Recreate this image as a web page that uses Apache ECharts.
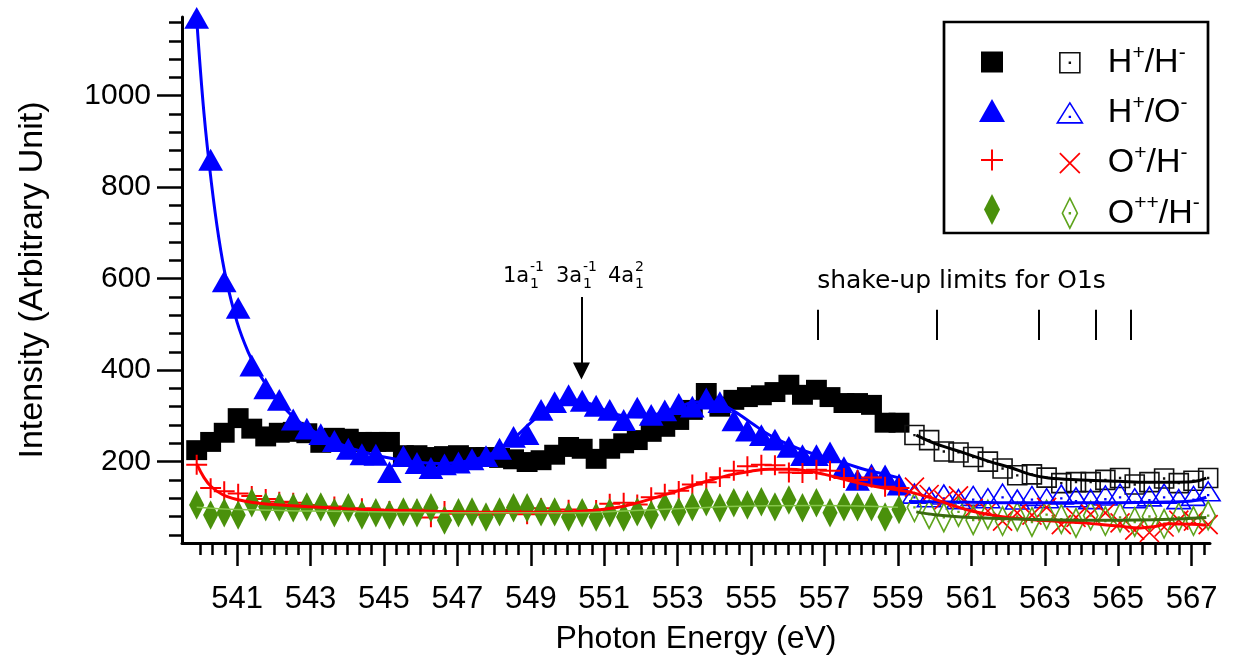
<!DOCTYPE html>
<html><head><meta charset="utf-8">
<script src="https://cdn.jsdelivr.net/npm/echarts@6/dist/echarts.min.js"></script>
<style>html,body{margin:0;padding:0;background:#fff}#c{width:1235px;height:662px}</style>
</head><body><div id="c"></div>
<script>
// ---------------- data ----------------
const energyFilled = [539.90, 540.28, 540.65, 541.03, 541.40, 541.78, 542.15, 542.53, 542.90, 543.28,
  543.65, 544.03, 544.40, 544.78, 545.15, 545.53, 545.90, 546.28, 546.65, 547.03,
  547.40, 547.78, 548.15, 548.53, 548.90, 549.28, 549.65, 550.03, 550.40, 550.78,
  551.15, 551.53, 551.90, 552.28, 552.65, 553.03, 553.40, 553.78, 554.15, 554.53,
  554.90, 555.28, 555.65, 556.03, 556.40, 556.78, 557.15, 557.53, 557.90, 558.28,
  558.65, 559.03];
const energyOpen = [559.45, 559.85, 560.25, 560.65, 561.05, 561.45, 561.85, 562.25, 562.65, 563.05,
  563.45, 563.85, 564.25, 564.65, 565.05, 565.45, 565.85, 566.25, 566.65, 567.05, 567.45];

// H+/H-
const hhFilled = [225, 243, 263, 295, 272, 255, 263, 265, 262, 241, 252, 250, 243, 243, 243, 214, 214, 210, 212, 214,
  210, 210, 208, 205, 199, 203, 215, 232, 228, 206, 228, 240, 247, 265, 276, 291, 313, 350, 320, 335,
  341, 345, 352, 368, 346, 357, 341, 328, 328, 324, 285, 285];
const hhOpen = [258, 247, 222, 220, 210, 200, 185, 170, 172, 165, 153, 155, 155, 160, 164, 150, 155, 163, 153, 158, 164];
const hhFitE = [559.5, 560.0, 560.8, 561.5, 562.1, 562.6, 563.1, 564.0, 565.0, 565.8, 566.6, 567.1, 567.4];
const hhFitV = [258, 240, 219, 200, 186, 172, 164, 160, 157, 155, 155, 157, 164];

// H+/O-
const hoFilled = [1170, 860, 594, 536, 410, 360, 335, 292, 272, 260, 245, 228, 216, 215, 177, 212, 197, 186, 194, 198,
  205, 212, 228, 254, 260, 313, 330, 345, 333, 322, 313, 291, 318, 302, 312, 326, 320, 338, 330, 290,
  268, 258, 248, 232, 214, 214, 220, 188, 160, 172, 170, 150];
const hoOpen = [130, 122, 128, 118, 125, 120, 130, 117, 125, 120, 128, 122, 118, 126, 130, 120, 124, 130, 118, 125, 135];
const hoFitE = [539.9, 540.1, 540.3, 540.5, 540.7, 541.0, 541.3, 541.6, 542.0, 542.5, 543.0, 543.5, 544.0, 544.5,
  545.0, 545.5, 546.0, 546.5, 547.0, 547.5, 548.0, 548.5, 549.0, 549.5, 550.0, 550.5, 551.0, 551.5, 552.0,
  552.5, 553.0, 553.5, 554.0, 554.5, 555.0, 555.5, 556.0, 556.5, 557.0, 557.5, 558.0, 558.5, 559.0];
const hoFitV = [1168, 960, 810, 690, 600, 505, 440, 392, 345, 300, 270, 250, 232, 220, 210, 203, 198, 196, 198, 205,
  220, 248, 285, 318, 335, 330, 313, 300, 298, 305, 318, 330, 330, 312, 285, 258, 238, 222, 210, 198, 185, 175, 165];
const hoOpenFitE = [559.3, 560.0, 561.0, 562.0, 563.0, 564.0, 565.0, 566.0, 567.0, 567.4];
const hoOpenFitV = [113, 112, 111, 110, 110, 110, 110, 111, 114, 122];

// O+/H-
const ohFilled = [193, 142, 135, 130, 125, 118, 112, 110, 105, 100, 102, 96, 98, 94, 92, 90, 95, 78, 92, 86,
  90, 84, 88, 94, 85, 98, 90, 95, 88, 94, 108, 110, 106, 122, 130, 136, 150, 155, 166, 180,
  190, 193, 192, 176, 175, 182, 180, 164, 160, 165, 145, 142];
const ohOpen = [144, 128, 116, 125, 98, 92, 70, 88, 83, 100, 62, 78, 85, 88, 66, 50, 45, 57, 72, 70, 62];
const ohFitE = [539.9, 540.1, 540.3, 540.6, 541, 541.5, 542, 543, 544, 545, 546, 547, 548, 549, 550, 550.5, 551, 551.5,
  552, 552.5, 553, 553.5, 554, 554.5, 555, 555.5, 556, 556.5, 557, 557.5, 558, 558.5, 559, 559.5, 560, 560.5,
  561, 561.5, 562, 563, 564, 565, 565.6, 566, 566.4, 567, 567.4];
const ohFitV = [195, 165, 145, 128, 117, 110, 106, 101, 97, 94, 92, 90, 89, 89, 90, 92, 96, 102,
  112, 124, 136, 150, 162, 172, 179, 183, 183, 180, 172, 162, 152, 144, 138, 130, 118, 104,
  92, 84, 78, 71, 66, 59, 55, 58, 64, 63, 61];

// O++/H-
const oohFilled = [105, 83, 88, 83, 110, 101, 101, 99, 101, 101, 88, 99, 83, 88, 83, 90, 88, 99, 72, 88,
  90, 79, 90, 99, 99, 90, 90, 79, 88, 79, 88, 79, 90, 83, 101, 90, 101, 112, 99, 110,
  105, 112, 101, 116, 99, 110, 88, 101, 101, 101, 79, 95];
const oohOpen = [100, 85, 78, 90, 72, 84, 70, 80, 68, 84, 74, 66, 82, 70, 78, 68, 80, 64, 78, 70, 82];
const oohFitE = [539.9, 541, 543, 545, 547, 549, 551, 553, 555, 557, 559];
const oohFitV = [100, 95, 92, 90, 88, 88, 90, 97, 103, 104, 100];
const oohOpenFitE = [559.5, 560, 561, 562, 563, 564, 565, 566, 567, 567.4];
const oohOpenFitV = [90, 84, 78, 75, 73, 72, 72, 73, 76, 78];

// ticks
const xTickValues = [541, 543, 545, 547, 549, 551, 553, 555, 557, 559, 561, 563, 565, 567];
const xTickLabels = ['541', '543', '545', '547', '549', '551', '553', '555', '557', '559', '561', '563', '565', '567'];
const yTickValues = [200, 400, 600, 800, 1000];
const yTickLabels = ['200', '400', '600', '800', '1000'];

// annotations
const shakeUpLimits = [556.81, 560.06, 562.83, 564.40, 565.34];
const shakeUpRange = [466, 532];
const shakeUpText = 'shake-up limits for O1s';
const arrowEnergy = 550.38;
const arrowRange = [560, 398];
const orbitalBase = ['1a', '3a', '4a'];
const orbitalSub = ['1', '1', '1'];
const orbitalSup = ['-1', '-1', '2'];

// legend labels
const legendFilledNames = ['H+/H- (a)', 'H+/O- (a)', 'O+/H- (a)', 'O++/H- (a)'];
const legendOpenNames = ['H+/H- (b)', 'H+/O- (b)', 'O+/H- (b)', 'O++/H- (b)'];
const legendRich = ['H{s|+}/H{s|-}', 'H{s|+}/O{s|-}', 'O{s|+}/H{s|-}', 'O{s|++}/H{s|-}'];

// ---------------- chart ----------------
const X_MIN = 539.5, X_MAX = 567.5, Y_MIN = 22, Y_MAX = 1172;
const F = '"Liberation Sans", Arial, sans-serif';
const zip = (xs, ys) => xs.map((x, i) => [x, ys[i]]);

const xMinor = [];
for (let k = 0; k <= 82; k++) { if ((k - 3) % 6 !== 0) xMinor.push(+(540 + k / 3).toFixed(4)); }
const yMinor = [];
for (let v = 40; v <= 1160; v += 40) { if (v % 200 !== 0) yMinor.push(v); }

const pad = 'M0,0M40,40';
const SYM = {
  sqFilled: 'path://' + pad + 'M9,9.5H31V30.5H9Z',
  sqOpen: 'path://' + pad + 'M10,10H30V30H10ZM19.6,19.6H20.4V20.4H19.6Z',
  triFilled: 'path://' + pad + 'M20,8.5L33,31.5H7Z',
  triOpen: 'path://' + pad + 'M20,10L32.5,30H7.5ZM19.6,23.6H20.4V24.4H19.6Z',
  plus: 'path://' + pad + 'M9,20H31M20,9.5V30.5',
  cross: 'path://' + pad + 'M10,10L30,30M30,10L10,30',
  diaFilled: 'path://' + pad + 'M20,4.5L28,20L20,35.5L12,20Z',
  diaOpen: 'path://' + pad + 'M20,5L27.5,20L20,35L12.5,20ZM19.6,19.6H20.4V20.4H19.6Z'
};
const SS = 38;
const C = { blk: '#000000', blue: '#0000ff', red: '#ff0000', green: '#4a910b', green2: '#5ea41c', dkgreen: '#3a6a0e', ltgreen: '#86c64a' };

function scatter(name, e, v, sym, style) {
  return { name, type: 'scatter', data: zip(e, v), symbol: sym, symbolSize: SS,
    itemStyle: Object.assign({ opacity: 1 }, style), emphasis: { disabled: true } };
}
function fit(e, v, color, width) {
  return { type: 'line', data: zip(e, v), smooth: 0.4, showSymbol: false, symbol: 'none', lineStyle: { color, width }, emphasis: { disabled: true } };
}

const chart = echarts.init(document.getElementById('c'), null, { renderer: 'canvas' });

const option = {
  animation: false,
  backgroundColor: '#ffffff',
  grid: { left: 182, top: 17, width: 1028, height: 526, containLabel: false, outerBoundsMode: 'none' },
  xAxis: [
    { type: 'value', min: X_MIN, max: X_MAX, position: 'bottom',
      name: 'Photon Energy (eV)', nameLocation: 'middle', nameGap: 80,
      nameTextStyle: { fontFamily: F, fontSize: 32, color: '#000' },
      axisLine: { show: true, onZero: false, lineStyle: { color: '#000', width: 3 } },
      axisTick: { show: true, customValues: xTickValues, length: 23, lineStyle: { color: '#000', width: 2.5 } },
      axisLabel: { show: true, customValues: xTickValues, margin: 41, fontFamily: F, fontSize: 31, color: '#000',
        formatter: v => { const i = xTickValues.indexOf(v); return i >= 0 ? xTickLabels[i] : String(v); } },
      splitLine: { show: false } },
    { type: 'value', min: X_MIN, max: X_MAX, position: 'bottom',
      axisLine: { show: false, onZero: false },
      axisTick: { show: true, customValues: xMinor, length: 12, lineStyle: { color: '#000', width: 2.5 } },
      axisLabel: { show: false }, splitLine: { show: false } }
  ],
  yAxis: [
    { type: 'value', min: Y_MIN, max: Y_MAX, position: 'left',
      name: 'Intensity (Arbitrary Unit)', nameLocation: 'middle', nameGap: 132, nameRotate: 90,
      nameTextStyle: { fontFamily: F, fontSize: 34, color: '#000' },
      axisLine: { show: true, onZero: false, lineStyle: { color: '#000', width: 3 } },
      axisTick: { show: true, customValues: yTickValues, length: 25, lineStyle: { color: '#000', width: 2.5 } },
      axisLabel: { show: true, customValues: yTickValues, margin: 31, fontFamily: F, fontSize: 30, color: '#000',
        formatter: v => { const i = yTickValues.indexOf(v); return i >= 0 ? yTickLabels[i] : String(v); } },
      splitLine: { show: false } },
    { type: 'value', min: Y_MIN, max: Y_MAX, position: 'left',
      axisLine: { show: false, onZero: false },
      axisTick: { show: true, customValues: yMinor, length: 13, lineStyle: { color: '#000', width: 2.5 } },
      axisLabel: { show: false }, splitLine: { show: false } }
  ],
  legend: [
    { orient: 'vertical', left: 966, top: 37, itemWidth: 40, itemHeight: 40, itemGap: 8.5,
      data: legendFilledNames, formatter: () => '', selectedMode: false,
      itemStyle: { borderWidth: 'inherit' }, textStyle: { fontSize: 10 } },
    { orient: 'vertical', left: 1044, top: 37, itemWidth: 40, itemHeight: 40, itemGap: 8.5,
      data: legendOpenNames, selectedMode: false, itemStyle: { borderWidth: 'inherit' },
      formatter: name => '{p|}' + legendRich[legendOpenNames.indexOf(name)],
      textStyle: { fontFamily: F, fontSize: 34, lineHeight: 40, color: '#000',
        rich: { p: { width: 13 }, s: { fontFamily: F, fontSize: 21, lineHeight: 8, verticalAlign: 'top', color: '#000' } } } }
  ],
  series: [
    scatter(legendFilledNames[0], energyFilled, hhFilled, SYM.sqFilled, { color: C.blk }),
    scatter(legendOpenNames[0], energyOpen, hhOpen, SYM.sqOpen, { color: 'transparent', borderColor: '#111111', borderWidth: 1.6 }),
    fit(hhFitE, hhFitV, C.blk, 3),
    fit(hoFitE, hoFitV, C.blue, 3),
    scatter(legendFilledNames[1], energyFilled, hoFilled, SYM.triFilled, { color: C.blue }),
    scatter(legendOpenNames[1], energyOpen, hoOpen, SYM.triOpen, { color: 'transparent', borderColor: C.blue, borderWidth: 1.6 }),
    fit(hoOpenFitE, hoOpenFitV, C.blue, 3),
    fit(ohFitE, ohFitV, C.red, 3),
    scatter(legendFilledNames[2], energyFilled, ohFilled, SYM.plus, { color: 'transparent', borderColor: C.red, borderWidth: 2 }),
    scatter(legendOpenNames[2], energyOpen, ohOpen, SYM.cross, { color: 'transparent', borderColor: C.red, borderWidth: 1.7 }),
    fit(oohFitE, oohFitV, C.ltgreen, 1.5),
    scatter(legendFilledNames[3], energyFilled, oohFilled, SYM.diaFilled, { color: C.green }),
    scatter(legendOpenNames[3], energyOpen, oohOpen, SYM.diaOpen, { color: 'transparent', borderColor: C.green2, borderWidth: 1.6 }),
    fit(oohOpenFitE, oohOpenFitV, C.dkgreen, 3),
    { type: 'line', data: [], silent: true,
      markLine: { silent: true, symbol: 'none', animation: false, label: { show: false },
        lineStyle: { color: '#000', width: 2, type: 'solid' },
        emphasis: { disabled: true },
        data: shakeUpLimits.map(e => [{ coord: [e, shakeUpRange[0]] }, { coord: [e, shakeUpRange[1]] }]) } },
    { type: 'line', data: [], silent: true,
      markLine: { silent: true, symbol: ['none', 'triangle'], symbolSize: 17, animation: false, label: { show: false },
        lineStyle: { color: '#000', width: 2, type: 'solid' },
        emphasis: { disabled: true },
        data: [[{ coord: [arrowEnergy, arrowRange[0]] }, { coord: [arrowEnergy, arrowRange[1]] }]] } }
  ]
};
chart.setOption(option);

const px = (e, v) => chart.convertToPixel({ xAxisIndex: 0, yAxisIndex: 0 }, [e, v]);
const g = [];
const A = px(548.24, 605);
const dx = [0, 53, 105];
const AF = '"DejaVu Sans", sans-serif';
orbitalBase.forEach((b, i) => {
  g.push({ type: 'text', x: A[0] + dx[i], y: A[1], style: { text: b, fontFamily: AF, fontSize: 21, fill: '#000', align: 'left', verticalAlign: 'middle' } });
  g.push({ type: 'text', x: A[0] + dx[i] + 27, y: A[1] + 8.5, style: { text: orbitalSub[i], fontFamily: AF, fontSize: 14, fill: '#000', align: 'left', verticalAlign: 'middle' } });
  g.push({ type: 'text', x: A[0] + dx[i] + 27, y: A[1] - 8.5, style: { text: orbitalSup[i], fontFamily: AF, fontSize: 14, fill: '#000', align: 'left', verticalAlign: 'middle' } });
});
const S = px(556.8, 593);
g.push({ type: 'text', x: S[0], y: S[1], style: { text: shakeUpText, fontFamily: AF, fontSize: 25, fill: '#000', align: 'left', verticalAlign: 'middle' } });
g.push({ type: 'rect', shape: { x: 944, y: 22, width: 264, height: 211 }, style: { fill: 'none', stroke: '#000', lineWidth: 2.7 }, z: 100 });
chart.setOption({ graphic: g });
</script>
</body></html>
